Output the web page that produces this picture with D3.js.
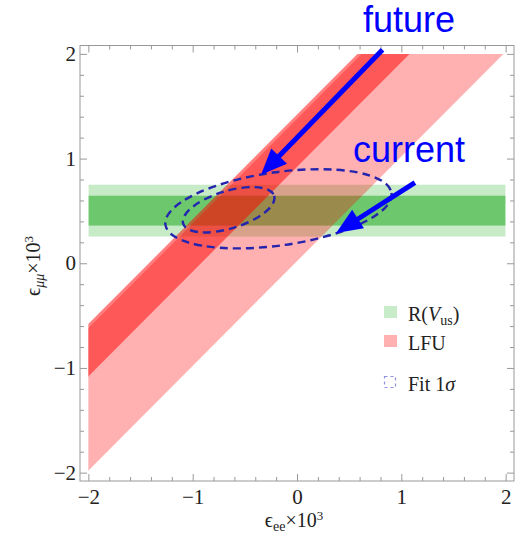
<!DOCTYPE html>
<html>
<head>
<meta charset="utf-8">
<script src="https://cdn.jsdelivr.net/npm/d3@7"></script>
<style>
  body { margin: 0; background: #fff; }
  svg { display: block; }
</style>
</head>
<body>
<svg id="vis"></svg>
<script>
// tick values
const xMajor = [-2, -1, 0, 1, 2];
const yMajor = [-2, -1, 0, 1, 2];
const minorStep = 0.2;

// LFU bands: eps_mumu = eps_ee + c, c between the two numbers
const lfuWide = [0.02, 1.38];
const lfuNarrow = [0.92, 1.42];

// R(Vus) bands: eps_mumu between the two numbers
const vusWide = [0.255, 0.75];
const vusNarrow = [0.36, 0.645];

// 1 sigma fit ellipses: centre, semi axes, tilt in degrees
const fitCurrent = [-0.178, 0.52, 1.094, 0.35, 8];
const fitFuture = [-0.655, 0.511, 0.456, 0.179, 17];

// annotation arrows [from x, from y, to x, to y] in data units
const arrowFuture = [0.82, 2.04, -0.345, 0.845];
const arrowCurrent = [1.13, 0.77, 0.375, 0.29];

const W = 516, H = 541;
const svg = d3.select("#vis").attr("width", W).attr("height", H);

const x = d3.scaleLinear().domain([-2.08, 2.08]).range([80, 514]);
const y = d3.scaleLinear().domain([-2.08, 2.08]).range([481, 45.5]);

const serif = "'Liberation Serif','Times New Roman',serif";
const sans = "'Liberation Sans',Arial,sans-serif";

// clip to the [-2,2] square
svg.append("clipPath").attr("id", "box")
  .append("rect")
  .attr("x", x(-2)).attr("y", y(2))
  .attr("width", x(2) - x(-2)).attr("height", y(-2) - y(2));

const plot = svg.append("g").attr("clip-path", "url(#box)");

function hband(b, op) {
  plot.append("rect")
    .attr("x", x(-2)).attr("width", x(2) - x(-2))
    .attr("y", y(b[1])).attr("height", y(b[0]) - y(b[1]))
    .attr("fill", "#00a000").attr("fill-opacity", op);
}
function dband(b, op) {
  const pts = [[-3, -3 + b[0]], [3, 3 + b[0]], [3, 3 + b[1]], [-3, -3 + b[1]]];
  plot.append("path")
    .attr("d", d3.line().x(d => x(d[0])).y(d => y(d[1]))(pts) + "Z")
    .attr("fill", "#ff0000").attr("fill-opacity", op);
}
hband(vusWide, 0.22);
hband(vusNarrow, 0.45);
dband(lfuWide, 0.31);
dband(lfuNarrow, 0.5);

function fitEllipse(e) {
  svg.append("ellipse")
    .attr("cx", 0).attr("cy", 0)
    .attr("rx", x(e[0] + e[2]) - x(e[0]))
    .attr("ry", y(e[1]) - y(e[1] + e[3]))
    .attr("transform", "translate(" + x(e[0]) + "," + y(e[1]) + ") rotate(" + (-e[4]) + ")")
    .attr("fill", "none")
    .attr("stroke", "#2424ae")
    .attr("stroke-width", 2.4)
    .attr("stroke-dasharray", "8,5");
}
fitEllipse(fitCurrent);
fitEllipse(fitFuture);

// frame and ticks
const frame = svg.append("g");
frame.append("rect")
  .attr("x", 80).attr("y", 45.5).attr("width", 434).attr("height", 435.5)
  .attr("fill", "none").attr("stroke", "#999").attr("stroke-width", 1);

const minors = d3.range(-2, 2.001, minorStep).filter(v => Math.abs(v - Math.round(v)) > 1e-6);

function ticks(axisFn, scale, pos, vals, size, labels) {
  const g = frame.append("g").attr("transform", pos)
    .call(axisFn(scale).tickValues(vals).tickSize(-size).tickPadding(labels ? 8 : 0)
      .tickFormat(labels ? d3.format("d") : ""));
  g.select(".domain").remove();
  g.selectAll("line").attr("stroke", "#999");
  g.selectAll("text").attr("fill", "#222").attr("font-family", serif).attr("font-size", 21);
  return g;
}
ticks(d3.axisBottom, x, "translate(0,481)", xMajor, 7, true);
ticks(d3.axisBottom, x, "translate(0,481)", minors, 4, false);
ticks(d3.axisTop, x, "translate(0,45.5)", xMajor, 7, false);
ticks(d3.axisTop, x, "translate(0,45.5)", minors, 4, false);
const yl = ticks(d3.axisLeft, y, "translate(80,0)", yMajor, 7, true);
yl.selectAll("text").attr("x", -4);
ticks(d3.axisLeft, y, "translate(80,0)", minors, 4, false);
ticks(d3.axisRight, y, "translate(514,0)", yMajor, 7, false);
ticks(d3.axisRight, y, "translate(514,0)", minors, 4, false);

// axis titles
const xt = svg.append("text").attr("x", 294).attr("y", 527)
  .attr("text-anchor", "middle").attr("font-family", serif).attr("font-size", 20).attr("fill", "#222");
xt.append("tspan").text("\u03F5");
xt.append("tspan").attr("font-size", 14).attr("dy", 4).text("ee");
xt.append("tspan").attr("dy", -4).text("\u00D710");
xt.append("tspan").attr("font-size", 13).attr("dy", -7).text("3");

const yt = svg.append("text").attr("transform", "translate(40,266) rotate(-90)")
  .attr("text-anchor", "middle").attr("font-family", serif).attr("font-size", 20).attr("fill", "#222");
yt.append("tspan").text("\u03F5");
yt.append("tspan").attr("font-size", 14).attr("font-style", "italic").attr("dy", 4).text("\u03BC\u03BC");
yt.append("tspan").attr("dy", -4).text("\u00D710");
yt.append("tspan").attr("font-size", 13).attr("dy", -7).text("3");

// legend
const leg = svg.append("g").attr("font-family", serif).attr("font-size", 20).attr("fill", "#222");
leg.append("rect").attr("x", 384).attr("y", 306).attr("width", 13).attr("height", 12).attr("fill", "#c8ebc8");
leg.append("rect").attr("x", 384).attr("y", 335).attr("width", 13).attr("height", 12).attr("fill", "#ffb0b0");
leg.append("rect").attr("x", 384.5).attr("y", 376.5).attr("width", 11).attr("height", 11)
  .attr("fill", "none").attr("stroke", "#9090e0").attr("stroke-width", 1.2).attr("stroke-dasharray", "3,3");
const t1 = leg.append("text").attr("x", 408).attr("y", 321);
t1.append("tspan").text("R(");
t1.append("tspan").attr("font-style", "italic").text("V");
t1.append("tspan").attr("font-size", 14).attr("dy", 4).text("us");
t1.append("tspan").attr("dy", -4).text(")");
leg.append("text").attr("x", 408).attr("y", 350).text("LFU");
const t3 = leg.append("text").attr("x", 408).attr("y", 391);
t3.append("tspan").text("Fit 1");
t3.append("tspan").attr("font-style", "italic").text("\u03C3");

// annotations
function arrow(a) {
  const x0 = x(a[0]), y0 = y(a[1]), x1 = x(a[2]), y1 = y(a[3]);
  const len = Math.hypot(x1 - x0, y1 - y0);
  const ux = (x1 - x0) / len, uy = (y1 - y0) / len;
  const L = 26, hw = 11;
  const bx = x1 - L * ux, by = y1 - L * uy;
  svg.append("line").attr("x1", x0).attr("y1", y0).attr("x2", bx + 2 * ux).attr("y2", by + 2 * uy)
    .attr("stroke", "#0000ff").attr("stroke-width", 5);
  svg.append("polygon")
    .attr("points", [[x1, y1], [bx - hw * uy, by + hw * ux], [bx + hw * uy, by - hw * ux]].join(" "))
    .attr("fill", "#0000ff");
}
arrow(arrowFuture);
arrow(arrowCurrent);

svg.append("text").attr("x", 363).attr("y", 32).attr("font-family", sans).attr("font-size", 36)
  .attr("fill", "#0000ff").text("future");
svg.append("text").attr("x", 353).attr("y", 162).attr("font-family", sans).attr("font-size", 36)
  .attr("fill", "#0000ff").text("current");
</script>
</body>
</html>
